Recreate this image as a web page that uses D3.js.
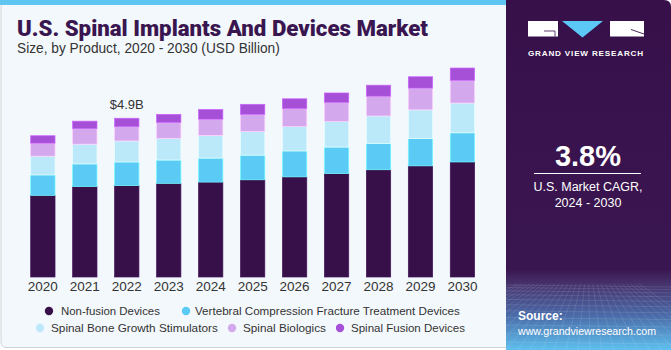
<!DOCTYPE html>
<html>
<head>
<meta charset="utf-8">
<script src="https://cdn.jsdelivr.net/npm/d3@7"></script>
<style>
  html, body { margin: 0; padding: 0; background: #ffffff; }
  svg { display: block; font-family: "Liberation Sans", Arial, sans-serif; }
</style>
</head>
<body>
<svg id="chart" width="671" height="350"></svg>
<script>
// ---- data ----
const years = ["2020","2021","2022","2023","2024","2025","2026","2027","2028","2029","2030"];
const seriesNames = ["Non-fusion Devices","Vertebral Compression Fracture Treatment Devices","Spinal Bone Growth Stimulators","Spinal Biologics","Spinal Fusion Devices"];
const nonFusion   = [2.52, 2.79, 2.82, 2.89, 2.93, 3.00, 3.09, 3.19, 3.31, 3.43, 3.55];
const vcfDevices  = [0.63, 0.70, 0.73, 0.72, 0.74, 0.76, 0.80, 0.82, 0.81, 0.84, 0.90];
const boneGrowth  = [0.58, 0.61, 0.65, 0.67, 0.70, 0.73, 0.75, 0.79, 0.85, 0.89, 0.92];
const biologics   = [0.40, 0.48, 0.44, 0.49, 0.50, 0.53, 0.56, 0.59, 0.61, 0.67, 0.70];
const fusion      = [0.23, 0.23, 0.26, 0.25, 0.30, 0.31, 0.30, 0.29, 0.34, 0.35, 0.38];
const colors = ["#37104a", "#5bcbf6", "#bce9f9", "#d4a8ec", "#a650d8"];
const annotationYear = "2022";
const annotationText = "$4.9B";
const cagrText = "3.8%";

// ---- build table ----
const allSeries = [nonFusion, vcfDevices, boneGrowth, biologics, fusion];
const keys = seriesNames;
const table = years.map((y, i) => {
  const row = { year: y };
  keys.forEach((k, j) => row[k] = allSeries[j][i]);
  return row;
});
const stacked = d3.stack().keys(keys)(table);

const svg = d3.select("#chart");

// fit helper: scale font-size so text reaches target width
function fit(sel, target) {
  const n = sel.node();
  const fs = parseFloat(sel.attr("font-size"));
  const w = n.getComputedTextLength();
  if (w > 0) sel.attr("font-size", (fs * target / w).toFixed(2));
  return sel;
}

// ---- left panel background ----
svg.append("rect").attr("x", 1).attr("y", 2).attr("width", 512).attr("height", 345.5)
  .attr("rx", 5).attr("fill", "#f3f8fc").attr("stroke", "#cfd3d6").attr("stroke-width", 1);
svg.append("rect").attr("x", 0).attr("y", 0).attr("width", 508).attr("height", 5).attr("fill", "#5ec6f0");

// ---- title ----
const title = svg.append("text").attr("x", 17).attr("y", 36)
  .attr("font-size", 20).attr("fill", "#3a1650")
  .attr("font-family", "Roboto, 'Liberation Sans', sans-serif")
  .style("font-weight", 900)
  .text("U.S. Spinal Implants And Devices Market");
fit(title, 411);
const sub = svg.append("text").attr("x", 17).attr("y", 53)
  .attr("font-size", 13).attr("fill", "#333333")
  .text("Size, by Product, 2020 - 2030 (USD Billion)");
fit(sub, 263);

// ---- scales ----
const x = d3.scaleBand().domain(years).range([18.1, 487.2]).paddingInner(0.42).paddingOuter(0.3);
const y = d3.scaleLinear().domain([0, 6]).range([277, 277 - 6 * 32.4]);

// ---- bars ----
const g = svg.append("g");
g.selectAll("g.layer").data(stacked).join("g").attr("class", "layer")
  .attr("fill", (d, i) => colors[i])
  .attr("stroke", (d, i) => d3.color(colors[i]).brighter(0.6))
  .attr("stroke-width", 0.7)
  .selectAll("rect").data(d => d).join("rect")
  .attr("x", d => x(d.data.year))
  .attr("width", x.bandwidth())
  .attr("y", d => y(d[1]))
  .attr("height", d => y(d[0]) - y(d[1]));

// ---- x axis ----
const xAxis = d3.axisBottom(x).tickSize(0).tickPadding(0);
const ax = svg.append("g").attr("transform", "translate(0,280)").call(xAxis);
ax.select(".domain").remove();
ax.selectAll("text").attr("font-size", 13.5).attr("fill", "#333333")
  .attr("font-family", "'Liberation Sans', Arial, sans-serif").attr("dy", "0.78em");

// ---- annotation ----
const annIdx = years.indexOf(annotationYear);
const annTotal = d3.sum(allSeries, s => s[annIdx]);
svg.append("text").attr("x", x(annotationYear) + x.bandwidth() / 2).attr("y", y(annTotal) - 9.5)
  .attr("text-anchor", "middle").attr("font-size", 13).attr("fill", "#333333")
  .text(annotationText);

// ---- legend ----
const legendRows = [
  [{ i: 0, cx: 49, tx: 61, w: 99 }, { i: 1, cx: 186, tx: 195, w: 265 }],
  [{ i: 2, cx: 40, tx: 51, w: 167 }, { i: 3, cx: 232, tx: 243, w: 83 }, { i: 4, cx: 340, tx: 351, w: 114 }]
];
const legendY = [311, 328];
legendRows.forEach((row, r) => {
  row.forEach(item => {
    svg.append("circle").attr("cx", item.cx).attr("cy", legendY[r]).attr("r", 4.2).attr("fill", colors[item.i]);
    const t = svg.append("text").attr("x", item.tx).attr("y", legendY[r] + 4.3)
      .attr("font-size", 12).attr("fill", "#333333").text(seriesNames[item.i]);
    fit(t, item.w);
  });
});

// ---- right panel ----
const defs = svg.append("defs");
const grad = defs.append("linearGradient").attr("id", "pg").attr("x1", 0).attr("y1", 0).attr("x2", 0).attr("y2", 1);
grad.append("stop").attr("offset", "0").attr("stop-color", "#37104a");
grad.append("stop").attr("offset", "0.77").attr("stop-color", "#3a1650");
grad.append("stop").attr("offset", "0.81").attr("stop-color", "#46316b");
grad.append("stop").attr("offset", "0.9").attr("stop-color", "#4a6aa8");
grad.append("stop").attr("offset", "1").attr("stop-color", "#5ec0ee");
svg.append("path")
  .attr("d", "M506,0 H664 Q671,0 671,7 V350 H506 Z")
  .attr("fill", "url(#pg)");
// mesh lines
const mesh = svg.append("g").attr("stroke", "#ffffff").attr("stroke-opacity", 0.18).attr("stroke-width", 0.6).attr("fill", "none");
d3.range(0, 14).forEach(k => {
  const yy = 285 + k * k * 0.35 + k * 2.2;
  if (yy < 350) mesh.append("line").attr("x1", 506).attr("x2", 671).attr("y1", yy).attr("y2", yy + 2);
});
d3.range(-10, 20).forEach(k => {
  const xt = 506 + k * 12;
  mesh.append("line").attr("x1", 588 + (xt - 588) * 0.35).attr("y1", 284).attr("x2", xt).attr("y2", 350);
});

// logo
const logo = svg.append("g");
logo.append("rect").attr("x", 528).attr("y", 21).attr("width", 30).attr("height", 15.5).attr("fill", "#ffffff");
logo.append("path").attr("d", "M544,31 H555 V36.5").attr("stroke", "#37104a").attr("stroke-width", 0.8).attr("fill", "none");
logo.append("path").attr("d", "M562,21 L603,21 L582.5,37.5 Z").attr("fill", "#5bc8f5");
logo.append("rect").attr("x", 610).attr("y", 21).attr("width", 34).attr("height", 15.5).attr("fill", "#ffffff");
logo.append("path").attr("d", "M631,29.5 L644,34").attr("stroke", "#37104a").attr("stroke-width", 0.9);
const gvr = svg.append("text").attr("x", 528).attr("y", 55.5)
  .attr("font-size", 9).attr("font-weight", 700).attr("fill", "#ffffff").attr("letter-spacing", "0.1em")
  .text("GRAND VIEW RESEARCH");
fit(gvr, 116);

// CAGR
svg.append("text").attr("x", 588).attr("y", 166).attr("text-anchor", "middle")
  .attr("font-size", 29).attr("font-weight", 700).attr("fill", "#ffffff").text(cagrText);
svg.append("line").attr("x1", 534).attr("x2", 641).attr("y1", 173.5).attr("y2", 173.5)
  .attr("stroke", "#ffffff").attr("stroke-width", 1);
svg.append("text").attr("x", 588).attr("y", 191).attr("text-anchor", "middle")
  .attr("font-size", 12.5).attr("fill", "#ffffff").text("U.S. Market CAGR,");
svg.append("text").attr("x", 588).attr("y", 207).attr("text-anchor", "middle")
  .attr("font-size", 12.5).attr("fill", "#ffffff").text("2024 - 2030");

// source
svg.append("text").attr("x", 518).attr("y", 320).attr("font-size", 12).attr("font-weight", 700)
  .attr("fill", "#ffffff").text("Source:");
const src = svg.append("text").attr("x", 518).attr("y", 335).attr("font-size", 12)
  .attr("fill", "#ffffff").text("www.grandviewresearch.com");
fit(src, 138);
</script>
</body>
</html>
